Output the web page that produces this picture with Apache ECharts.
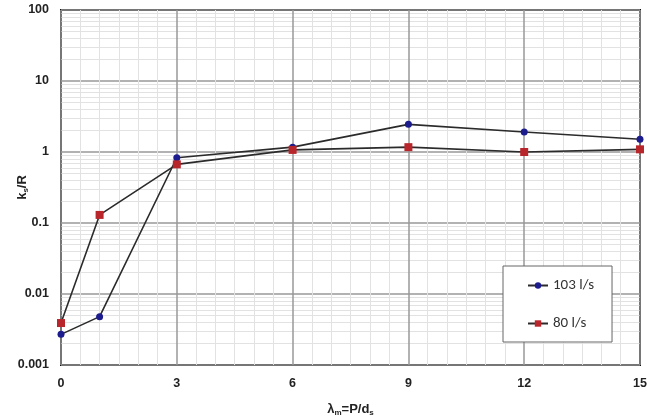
<!DOCTYPE html>
<html>
<head>
<meta charset="utf-8">
<script src="https://cdn.jsdelivr.net/npm/echarts@6/dist/echarts.min.js"></script>
<style>
  html, body { margin: 0; padding: 0; background: #fff; }
  #chart { width: 647px; height: 417px; }
</style>
</head>
<body>
<div id="chart"></div>
<script>
// lambda values (x) and ks/R readings for each flow rate
const lambdaValues = [0, 1, 3, 6, 9, 12, 15]
const ks103 = [0.0027, 0.0048, 0.83, 1.17, 2.45, 1.91, 1.51]
const ks80 = [0.0039, 0.13, 0.67, 1.07, 1.17, 1.0, 1.09]
const seriesNames = ['103 l/s', '80 l/s']

const toPairs = (xs, ys) => xs.map((x, i) => [x, ys[i]])

const chart = echarts.init(document.getElementById('chart'))

const labelFont = {
  fontFamily: 'Liberation Sans, Arial, sans-serif',
  fontWeight: 'bold',
  fontSize: 12.5,
  color: '#222',
}

const subRich = {
  l: { fontFamily: 'Liberation Sans, Arial', fontWeight: 'bold', fontSize: 13, color: '#222' },
  s: { fontFamily: 'Liberation Sans, Arial', fontWeight: 'bold', fontSize: 8, color: '#222', verticalAlign: 'bottom', padding: [7, 0, 0, 0] },
}

const option = {
  animation: false,
  grid: {
    left: 61,
    right: 7,
    top: 10,
    bottom: 52,
    outerBoundsMode: 'none',
    containLabel: false,
    show: true,
    borderColor: '#111',
    borderWidth: 2,
  },
  legend: {
    orient: 'vertical',
    left: 503,
    top: 266,
    padding: [12, 18, 11, 24],
    itemGap: 23,
    itemWidth: 20,
    itemHeight: 8,
    backgroundColor: '#fff',
    borderColor: '#666',
    borderWidth: 1,
    textStyle: {
      fontFamily: 'Carlito, Liberation Sans, sans-serif',
      fontSize: 15,
      color: '#333',
    },
    data: seriesNames,
  },
  xAxis: {
    type: 'value',
    min: 0,
    max: 15,
    interval: 3,
    name: '{l|λ}{s|m}{l|=P/d}{s|s}',
    nameLocation: 'middle',
    nameGap: 37,
    nameMoveOverlap: false,
    nameTextStyle: { rich: subRich },
    axisLine: { show: false },
    axisTick: { show: false },
    axisLabel: { ...labelFont, margin: 12 },
    splitLine: { show: true, lineStyle: { color: '#999', width: 1.5 } },
    minorTick: { show: false, splitNumber: 6 },
    minorSplitLine: { show: true, lineStyle: { color: '#e2e2e2', width: 1 } },
  },
  yAxis: {
    type: 'log',
    logBase: 10,
    min: 0.001,
    max: 100,
    name: '{l|k}{s|s}{l|/R}',
    nameLocation: 'middle',
    nameGap: 31,
    nameRotate: 90,
    nameMoveOverlap: false,
    nameTextStyle: { rich: subRich },
    axisLine: { show: false },
    axisTick: { show: false },
    axisLabel: {
      ...labelFont,
      margin: 12,
      formatter: (v) => String(+v.toPrecision(3)),
    },
    splitLine: { show: true, lineStyle: { color: '#999', width: 1.5 } },
    minorTick: { show: false, splitNumber: 9 },
    minorSplitLine: { show: true, lineStyle: { color: '#e2e2e2', width: 1 } },
  },
  series: [
    {
      name: seriesNames[0],
      type: 'line',
      data: toPairs(lambdaValues, ks103),
      symbol: 'circle',
      symbolSize: 7,
      itemStyle: { color: '#1c1c8e' },
      lineStyle: { color: '#2b2b2b', width: 1.6 },
      z: 3,
    },
    {
      name: seriesNames[1],
      type: 'line',
      data: toPairs(lambdaValues, ks80),
      symbol: 'rect',
      symbolSize: 8,
      itemStyle: { color: '#b8262c' },
      lineStyle: { color: '#2b2b2b', width: 1.6 },
      z: 4,
    },
  ],
}

chart.setOption(option)
</script>
</body>
</html>
